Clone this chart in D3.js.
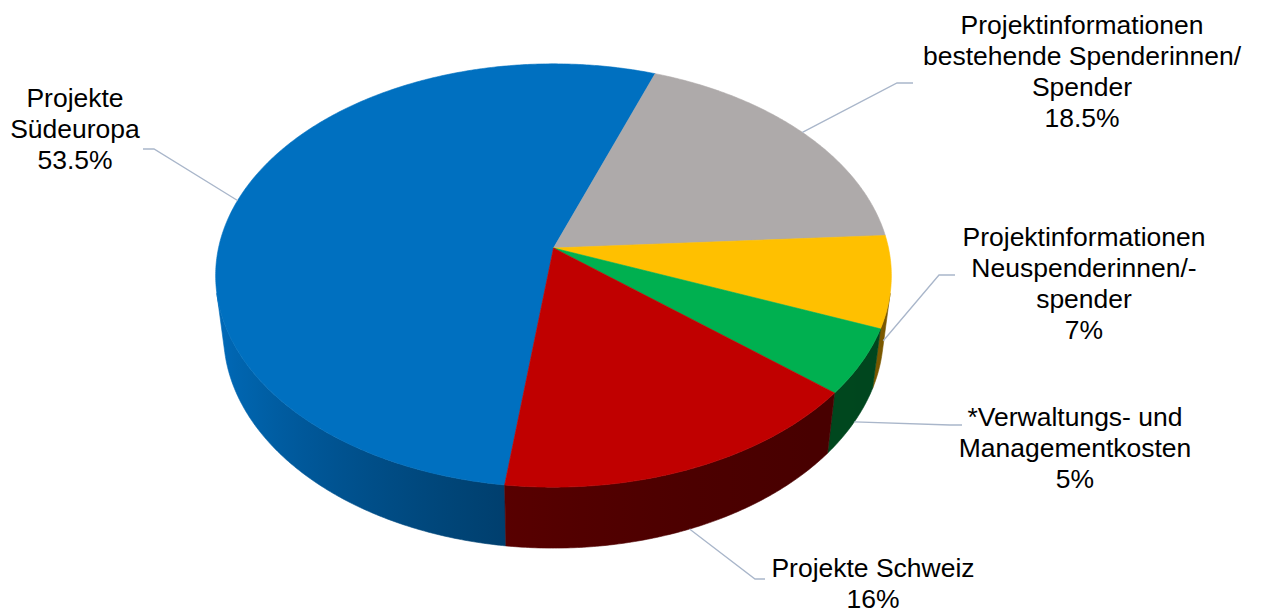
<!DOCTYPE html>
<html>
<head>
<meta charset="utf-8">
<script src="https://cdn.jsdelivr.net/npm/d3@7"></script>
<style>
  html, body { margin: 0; padding: 0; background: #ffffff; }
  svg { display: block; }
</style>
</head>
<body>
<svg id="chart" width="1262" height="614"></svg>
<script>
// ---------- data ----------
const categories = [
  "Projekte Südeuropa",
  "Projektinformationen bestehende Spenderinnen/Spender",
  "Projektinformationen Neuspenderinnen/-spender",
  "*Verwaltungs- und Managementkosten",
  "Projekte Schweiz"
];
const values = [53.5, 18.5, 7, 5, 16];
const labelLines = [
  ["Projekte", "Südeuropa"],
  ["Projektinformationen", "bestehende Spenderinnen/", "Spender"],
  ["Projektinformationen", "Neuspenderinnen/-", "spender"],
  ["*Verwaltungs- und", "Managementkosten"],
  ["Projekte Schweiz"]
];

// ---------- styles ----------
const topColors  = ["#0070C0", "#AEAAAA", "#FFC000", "#00B050", "#C00000"];
const sideDark   = ["#002a4a", "#3c3a3a", "#7a5800", "#00461e", "#470000"];
const sideLight  = ["#006cbc", "#8a8686", "#c89600", "#009040", "#7c0000"];
const leaderColor = "#A9B6CA";

// label layout: elbow point, end of horizontal segment, text centre and first baseline
const labelLayout = [
  { elbow: [154, 149], end: [143, 149], tx: 75,   ty: 107 },
  { elbow: [897, 83],  end: [913, 83],  tx: 1082, ty: 34  },
  { elbow: [939, 275], end: [955, 275], tx: 1084, ty: 246 },
  { elbow: [950, 425], end: [962, 425], tx: 1075, ty: 426 },
  { elbow: [755, 579], end: [765, 579], tx: 873,  ty: 577 }
];

// ---------- 3D projection ----------
const cx = 553.5, cy = 248;
const S = 2020, D = 6.03, H = 0.229;
const alpha = 38.4 * Math.PI / 180;
const sa = Math.sin(alpha), ca = Math.cos(alpha);

function proj(phi, y) {            // unit-radius pie, y = 0 top face, y = -H bottom
  const x = Math.cos(phi), z = Math.sin(phi);
  const depth = D - y * sa - z * ca;
  const up = y * ca - z * sa;
  return [cx + S * x / depth, cy - S * up / depth];
}

const deg = Math.PI / 180;
const startAngle = (19.9 - 0.535 * 360) * deg;   // d3 angle (0 = 12 o'clock)
const pie = d3.pie().sort(null).value(d => d)
  .startAngle(startAngle).endAngle(startAngle + 2 * Math.PI);
const arcs = pie(values);
const toPhi = a => a - Math.PI / 2;

const svg = d3.select("#chart");
const defs = svg.append("defs");
const gSide = svg.append("g");
const gTop = svg.append("g");
const gLab = svg.append("g");

// visible side range
const phiMin = Math.asin(1 / (D * ca));
const phiMax = Math.PI - phiMin;
const shadeT = phi => Math.pow((1 - Math.cos(phi)) / 2, 2);

function normPhi(p) {  // bring into (-PI/2, 3PI/2]
  while (p <= -Math.PI / 2) p += 2 * Math.PI;
  while (p > 1.5 * Math.PI) p -= 2 * Math.PI;
  return p;
}

arcs.forEach((a, i) => {
  let p1 = toPhi(a.startAngle), p2 = toPhi(a.endAngle);
  // shift so that p1 is in a canonical range
  const shift = normPhi(p1) - p1;
  p1 += shift; p2 += shift;
  // intervals to check against visible window (also shifted by 2PI)
  [0, 2 * Math.PI, -2 * Math.PI].forEach(off => {
    const lo = Math.max(p1 + off, phiMin), hi = Math.min(p2 + off, phiMax);
    if (hi <= lo) return;
    const n = Math.max(4, Math.ceil((hi - lo) / (0.5 * deg)));
    const topPts = d3.range(n + 1).map(k => proj(lo + (hi - lo) * k / n, 0));
    const botPts = d3.range(n + 1).map(k => proj(hi - (hi - lo) * k / n, -H));
    const x1 = proj(lo, 0)[0], x2 = proj(hi, 0)[0];
    const gid = "side" + i + "_" + (off === 0 ? "a" : off > 0 ? "b" : "c");
    const grad = defs.append("linearGradient").attr("id", gid)
      .attr("gradientUnits", "userSpaceOnUse")
      .attr("x1", x1).attr("y1", 0).attr("x2", x2).attr("y2", 0);
    const interp = d3.interpolateRgb(sideDark[i], sideLight[i]);
    d3.range(11).forEach(k => {
      const ph = lo + (hi - lo) * k / 10;
      const off2 = (proj(ph, 0)[0] - x1) / (x2 - x1);
      grad.append("stop").attr("offset", Math.min(1, Math.max(0, off2)))
        .attr("stop-color", interp(shadeT(ph)));
    });
    gSide.append("path")
      .attr("d", "M" + topPts.concat(botPts).map(p => p.join(",")).join("L") + "Z")
      .attr("fill", "url(#" + gid + ")")
      .attr("stroke", "url(#" + gid + ")")
      .attr("stroke-width", 0.6);
  });

  // top face
  const n = Math.max(4, Math.ceil((a.endAngle - a.startAngle) / (0.5 * deg)));
  const rim = d3.range(n + 1).map(k =>
    proj(toPhi(a.startAngle + (a.endAngle - a.startAngle) * k / n), 0));
  gTop.append("path")
    .attr("d", "M" + [cx, cy].join(",") + "L" + rim.map(p => p.join(",")).join("L") + "Z")
    .attr("fill", topColors[i])
    .attr("stroke", topColors[i])
    .attr("stroke-width", 0.6)
    .attr("stroke-linejoin", "round");
});

// ---------- labels ----------
const fmt = d3.format(".1~f");
arcs.forEach((a, i) => {
  const mid = toPhi((a.startAngle + a.endAngle) / 2);
  const onNear = Math.sin(mid) > 0;
  const start = proj(mid, onNear ? -H : 0);
  const L = labelLayout[i];
  gLab.append("polyline")
    .attr("points", [start, L.elbow, L.end].map(p => p.join(",")).join(" "))
    .attr("fill", "none")
    .attr("stroke", leaderColor)
    .attr("stroke-width", 1.3);

  const lines = labelLines[i].concat([fmt(values[i]) + "%"]);
  const g = gLab.append("g")
    .attr("transform", `translate(${L.tx},${L.ty}) scale(1.06,1)`);
  const t = g.append("text")
    .attr("text-anchor", "middle")
    .attr("font-family", "'Liberation Sans', Arial, Helvetica, sans-serif")
    .attr("font-size", 25)
    .attr("fill", "#000");
  lines.forEach((ln, k) => {
    t.append("tspan").attr("x", 0).attr("y", k * 31).text(ln);
  });
});
</script>
</body>
</html>
